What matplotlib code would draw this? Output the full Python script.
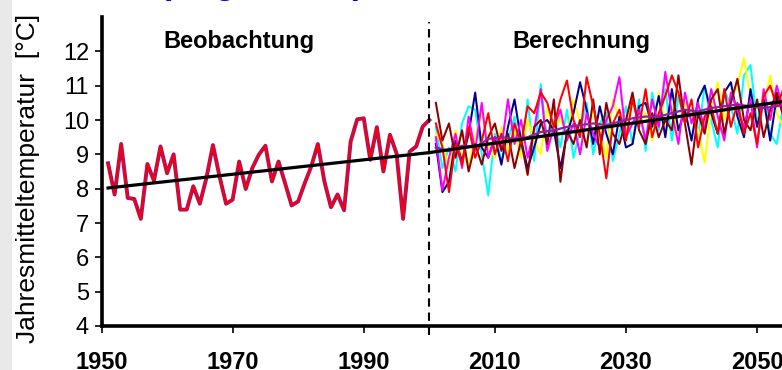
import matplotlib
matplotlib.use("Agg")
import matplotlib.pyplot as plt
from matplotlib.patches import Rectangle

plt.rcParams['font.family'] = ['Liberation Sans', 'DejaVu Sans']

# ---------------- data ----------------
obs_years = list(range(1951, 2001))
obs_temp = [8.74, 7.83, 9.30, 7.73, 7.70, 7.12, 8.72, 8.23, 9.23, 8.45,
            9.00, 7.39, 7.39, 8.07, 7.56, 8.31, 9.27, 8.36, 7.56, 7.68,
            8.79, 7.99, 8.60, 8.99, 9.25, 8.21, 8.79, 8.16, 7.51, 7.63,
            8.16, 8.65, 9.30, 8.21, 7.46, 7.83, 7.37, 9.37, 10.02, 10.05,
            8.84, 9.79, 8.50, 9.57, 9.03, 7.12, 9.08, 9.23, 9.81, 10.00]

proj_years = list(range(2001, 2056))
proj_navy = [9.3, 7.9, 8.2, 9.4, 8.8, 9.6, 10.8, 9.2, 8.9, 9.5,
             8.7, 9.8, 10.6, 9.4, 8.6, 9.2, 9.9, 10.0, 9.7, 8.6,
             9.6, 10.2, 11.1, 10.3, 9.3, 10.4, 9.6, 9.0, 10.1, 9.2,
             9.3, 10.4, 10.5, 9.8, 10.7, 9.5, 10.9, 9.7, 10.3, 9.4,
             10.6, 11.0, 10.2, 9.6, 10.8, 11.1, 10.1, 9.5, 10.9, 9.8,
             10.6, 9.4, 10.7, 10.2, 10.5]
proj_cyan = [9.8, 8.6, 9.2, 8.5, 9.9, 10.4, 10.3, 9.0, 7.8, 9.6,
             8.8, 9.4, 10.1, 9.0, 10.6, 8.8, 11.05, 9.4, 10.0, 9.2,
             10.3, 8.9, 9.7, 10.5, 9.0, 9.9, 10.2, 8.8, 9.6, 10.4,
             9.3, 10.6, 9.1, 10.8, 9.7, 10.9, 9.4, 10.7, 9.9, 10.3,
             9.5, 11.0, 10.0, 9.2, 10.9, 10.4, 9.6, 11.3, 11.6, 9.9,
             10.7, 9.6, 9.3, 10.4, 10.1]
proj_magenta = [9.5, 7.95, 8.9, 9.6, 8.6, 10.1, 9.1, 10.5, 8.9, 9.5,
                9.2, 10.6, 9.3, 10.0, 8.9, 9.7, 10.9, 9.1, 9.8, 10.3,
                9.4, 9.9, 9.0, 10.2, 9.6, 9.2, 10.0, 10.4, 11.25, 9.5,
                9.9, 10.3, 9.4, 10.6, 9.8, 11.4, 10.2, 9.3, 10.8, 9.9,
                10.5, 9.7, 10.9, 10.1, 9.4, 10.8, 10.3, 9.8, 10.6, 9.2,
                10.9, 10.0, 11.0, 10.3, 10.6]
proj_yellow = [9.6, 9.3, 8.6, 9.7, 9.0, 8.7, 9.5, 10.2, 9.3, 8.9,
               9.8, 9.1, 9.7, 8.9, 10.0, 9.4, 9.0, 10.4, 9.6, 10.1,
               9.5, 10.6, 9.9, 9.3, 10.3, 9.7, 8.9, 10.6, 10.0, 9.6,
               10.7, 9.9, 10.2, 9.4, 10.8, 9.9, 10.4, 9.6, 10.5, 10.1,
               9.7, 8.75, 10.3, 11.1, 10.0, 10.6, 11.0, 11.8, 10.7, 9.9,
               10.4, 11.3, 10.2, 9.8, 10.6]
proj_red = [9.9, 9.2, 7.9, 9.3, 8.7, 9.8, 8.9, 9.4, 10.2, 9.0,
            9.6, 8.8, 9.9, 9.3, 10.4, 10.2, 10.8, 10.5, 9.8, 10.6,
            11.15, 10.0, 9.5, 11.25, 10.4, 9.6, 8.3, 9.9, 10.3, 9.4,
            10.6, 9.8, 10.9, 9.5, 10.2, 10.7, 11.3, 10.8, 9.9, 10.6,
            9.2, 10.1, 10.4, 9.6, 10.9, 9.8, 10.5, 9.6, 10.2, 9.3,
            10.7, 11.0, 10.4, 10.9, 10.6]
proj_maroon = [10.5, 9.4, 9.9, 8.9, 9.7, 8.5, 9.3, 8.7, 9.5, 9.9,
               9.1, 9.6, 8.6, 9.4, 8.4, 9.8, 10.0, 9.3, 10.6, 8.2,
               9.7, 9.3, 10.0, 9.2, 10.6, 9.0, 10.5, 9.6, 9.3, 10.0,
               10.8, 9.7, 9.3, 10.2, 9.5, 10.0, 9.7, 11.3, 9.9, 8.7,
               10.2, 9.6, 10.6, 10.9, 9.6, 10.5, 11.2, 10.0, 9.7, 10.6,
               9.5, 10.3, 10.8, 10.1, 10.4]

mean_years = list(range(2001, 2056, 2))
mean_temp = [9.2, 9.1, 9.25, 9.2, 9.45, 9.5, 9.45, 9.5, 9.65, 9.7,
             9.8, 9.85, 9.9, 9.85, 9.95, 10.05, 10.1, 10.1, 10.2, 10.3,
             10.25, 10.35, 10.4, 10.45, 10.4, 10.35, 10.4, 10.45]

trend_obs_years = [1951, 2000]
trend_obs_vals = [8.02, 9.05]
trend_proj_years = [2000, 2055]
trend_proj_vals = [9.05, 10.57]

split_year = 2000
x_ticks = [1950, 1970, 1990, 2010, 2030, 2050]
y_ticks = [4, 5, 6, 7, 8, 9, 10, 11, 12]
label_obs = "Beobachtung"
label_proj = "Berechnung"
y_label = "Jahresmitteltemperatur  [°C]"
title = "(Region Ost)"

# ---------------- figure ----------------
W, H = 782, 370
fig = plt.figure(figsize=(W / 100, H / 100), dpi=100)
fig.patches.append(Rectangle((0, 0), 12 / W, 1, transform=fig.transFigure,
                             facecolor="#e9e9e9", edgecolor="none", zorder=0))

ax = fig.add_axes([101.5 / W, 44 / H, 1 - 101.5 / W, (326 - 17) / H])
ax.set_xlim(1950, 2053.8)
ax.set_ylim(4, 13)

for s in ["top", "right"]:
    ax.spines[s].set_visible(False)
for s in ["left", "bottom"]:
    ax.spines[s].set_linewidth(2.6)

ax.set_xticks(x_ticks)
ax.set_yticks(y_ticks)
ax.tick_params(axis="y", direction="out", length=5, width=1.2, labelsize=17, pad=4)
ax.tick_params(axis="x", direction="out", length=5, width=1.2, labelsize=17, pad=13)
for lab in ax.get_xticklabels():
    lab.set_fontweight("bold")

ax.set_ylabel(y_label, fontsize=19)
ax.yaxis.set_label_coords(-(101.5 - 40) / (W - 101.5), 0.477)

proj = [(proj_cyan, "#00ffff"), (proj_yellow, "#ffff00"), (proj_navy, "#00008b"),
        (proj_magenta, "#ff00ff"), (proj_maroon, "#8b0000"), (proj_red, "#ff0000")]
for vals, col in proj:
    ax.plot(proj_years, vals, color=col, lw=1.45, zorder=2)
ax.plot(mean_years, mean_temp, color="#9020a0", lw=1.6, zorder=3)

ax.plot(obs_years, obs_temp, color="#7a1a9a", lw=2.8, zorder=3)
ax.plot(obs_years, obs_temp, color="#ff0000", lw=1.6, zorder=4)

ax.plot(trend_obs_years, trend_obs_vals, color="black", lw=2.3, zorder=5)
ax.plot(trend_proj_years, trend_proj_vals, color="black", lw=2.3, zorder=5)

ax.axvline(split_year, ymin=-0.03, ymax=0.984, color="black", lw=1.5,
           ls=(0, (4, 2.8)), clip_on=False, zorder=6)

ax.text(1970.9, 12.3, label_obs, fontsize=17, fontweight="bold", ha="center", va="center")
ax.text(2023.2, 12.3, label_proj, fontsize=17, fontweight="bold", ha="center", va="center")

fig.text(160 / W, 1 + 6 / H, title, color="#0000ff", fontsize=24.5,
         fontweight="bold", ha="left", va="baseline")

fig.savefig("out.png", dpi=100)
